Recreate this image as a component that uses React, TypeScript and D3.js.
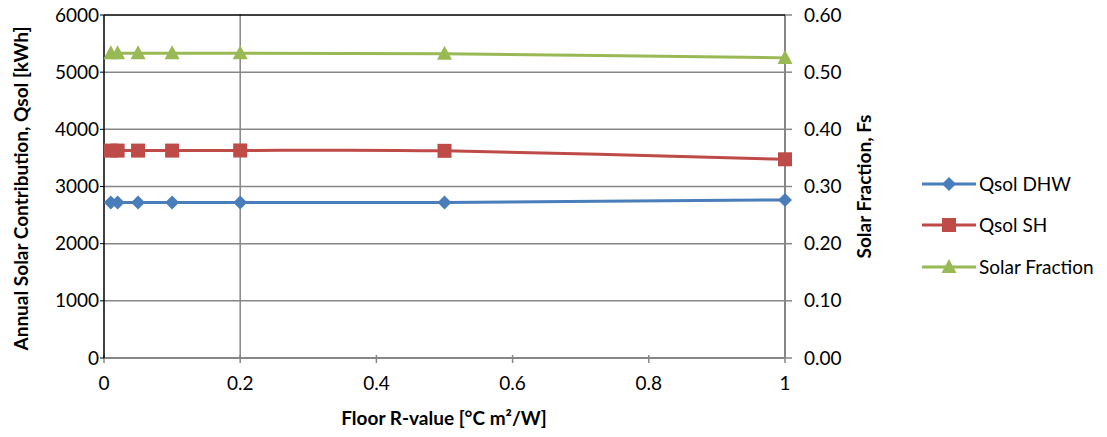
import React from "react";
import * as d3 from "d3";

// Floor insulation R-values and the corresponding simulation results
const rValues = [0.01, 0.02, 0.05, 0.1, 0.2, 0.5, 1.0];
const qsolDHW = [2722, 2722, 2722, 2722, 2718, 2722, 2766];
const qsolSH = [3628, 3628, 3628, 3628, 3630, 3624, 3476];
const solarFraction = [0.533, 0.533, 0.533, 0.533, 0.533, 0.532, 0.525];

const xTicks = [0, 0.2, 0.4, 0.6, 0.8, 1];
const leftTicks = [0, 1000, 2000, 3000, 4000, 5000, 6000];
const rightTicks = [0, 0.1, 0.2, 0.3, 0.4, 0.5, 0.6];

const seriesNames = ["Qsol DHW", "Qsol SH", "Solar Fraction"];
const seriesColors = ["#4A7EBB", "#BE4B48", "#98B954"];

const W = 1107;
const H = 437;
const plot = { left: 104, right: 785, top: 15, bottom: 358 };
const FONT = "Lato, 'Open Sans', sans-serif";
const GRID = "#868686";

function Marker({ kind, x, y, color }: { kind: number; x: number; y: number; color: string }) {
  if (kind === 0) {
    const r = 7;
    return <path d={`M${x},${y - r}L${x + r},${y}L${x},${y + r}L${x - r},${y}Z`} fill={color} />;
  }
  if (kind === 1) {
    const s = 7;
    return <rect x={x - s} y={y - s} width={2 * s} height={2 * s} fill={color} />;
  }
  const w = 7.5;
  return <path d={`M${x},${y - 8}L${x + w},${y + 6}L${x - w},${y + 6}Z`} fill={color} />;
}

export default function App() {
  const x = d3.scaleLinear().domain([0, 1]).range([plot.left, plot.right]);
  const yL = d3.scaleLinear().domain([0, 6000]).range([plot.bottom, plot.top]);
  const yR = d3.scaleLinear().domain([0, 0.6]).range([plot.bottom, plot.top]);

  const line = (ys: number[], scale: d3.ScaleLinear<number, number>) =>
    d3
      .line<number>()
      .x((_, i) => x(rValues[i]))
      .y((v) => scale(v))
      .curve(d3.curveCardinal.tension(0))(ys) || "";

  const series = [
    { vals: qsolDHW, scale: yL },
    { vals: qsolSH, scale: yL },
    { vals: solarFraction, scale: yR },
  ];

  const legendY = [184, 225, 267];

  return (
    <svg
      width={W}
      height={H}
      style={{ position: "absolute", left: 0, top: 0, background: "#fff" }}
      fontFamily={FONT}
    >
      {/* horizontal gridlines */}
      {leftTicks.slice(1, -1).map((t) => (
        <line key={t} x1={plot.left} x2={plot.right} y1={yL(t)} y2={yL(t)} stroke={GRID} strokeWidth={1.5} />
      ))}
      {/* vertical gridline */}
      <line x1={x(0.2)} x2={x(0.2)} y1={plot.top - 1} y2={plot.bottom} stroke={GRID} strokeWidth={1.5} />
      {/* right axis */}
      <line x1={plot.right} x2={plot.right} y1={plot.top} y2={plot.bottom} stroke={GRID} strokeWidth={2} />
      {rightTicks.map((t) => (
        <line key={t} x1={plot.right} x2={plot.right + 7} y1={yR(t)} y2={yR(t)} stroke={GRID} strokeWidth={1.5} />
      ))}
      {/* bottom axis */}
      <line x1={plot.left} x2={plot.right} y1={plot.bottom} y2={plot.bottom} stroke={GRID} strokeWidth={2} />
      {xTicks.map((t) => (
        <line key={t} x1={x(t)} x2={x(t)} y1={plot.bottom - 3} y2={plot.bottom + 5} stroke={GRID} strokeWidth={1.5} />
      ))}
      {/* top border and left axis */}
      <line x1={plot.left} x2={plot.right} y1={plot.top} y2={plot.top} stroke="#000" strokeWidth={1.5} />
      <line x1={plot.left} x2={plot.left} y1={plot.top} y2={plot.bottom} stroke="#000" strokeWidth={1.5} />
      {leftTicks.map((t) => (
        <line key={t} x1={plot.left - 4} x2={plot.left} y1={yL(t)} y2={yL(t)} stroke="#000" strokeWidth={1} />
      ))}

      {/* tick labels */}
      {leftTicks.map((t) => (
        <text key={t} x={99} y={yL(t)} dy="0.35em" textAnchor="end" fontSize={19} fill="#000">
          {t}
        </text>
      ))}
      {rightTicks.map((t) => (
        <text key={t} x={804} y={yR(t)} dy="0.35em" textAnchor="start" fontSize={19} fill="#000">
          {t.toFixed(2)}
        </text>
      ))}
      {xTicks.map((t) => (
        <text key={t} x={x(t)} y={383} dy="0.35em" textAnchor="middle" fontSize={19} fill="#000">
          {String(t)}
        </text>
      ))}

      {/* axis titles */}
      <text
        transform={`translate(21,${(plot.top + plot.bottom) / 2 + 2}) rotate(-90)`}
        textAnchor="middle"
        dy="0.35em"
        fontSize={19}
        fontWeight="bold"
      >
        Annual Solar Contribution, Qsol [kWh]
      </text>
      <text
        transform={`translate(864,${(plot.top + plot.bottom) / 2}) rotate(-90)`}
        textAnchor="middle"
        dy="0.35em"
        fontSize={19}
        fontWeight="bold"
      >
        Solar Fraction, Fs
      </text>
      <text x={444} y={418} dy="0.35em" textAnchor="middle" fontSize={19} fontWeight="bold">
        Floor R-value [°C m²/W]
      </text>

      {/* series */}
      {series.map((s, k) => (
        <g key={k}>
          <path d={line(s.vals, s.scale)} fill="none" stroke={seriesColors[k]} strokeWidth={3} />
          {s.vals.map((v, i) => (
            <Marker key={i} kind={k} x={x(rValues[i])} y={s.scale(v)} color={seriesColors[k]} />
          ))}
        </g>
      ))}

      {/* legend */}
      {seriesNames.map((name, k) => (
        <g key={name}>
          <line x1={922} x2={976} y1={legendY[k]} y2={legendY[k]} stroke={seriesColors[k]} strokeWidth={3} />
          <Marker kind={k} x={949} y={legendY[k]} color={seriesColors[k]} />
          <text x={979} y={legendY[k]} dy="0.35em" fontSize={19} fill="#000">
            {name}
          </text>
        </g>
      ))}
    </svg>
  );
}
